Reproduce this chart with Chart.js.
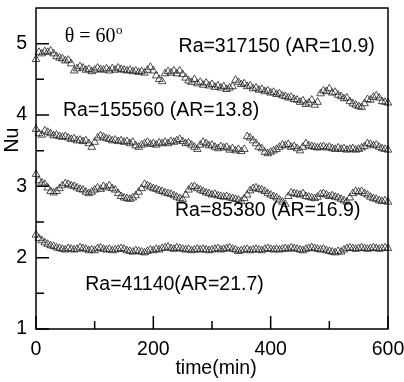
<!DOCTYPE html>
<html lang="en">
<head>
<meta charset="UTF-8">
<title>Nu vs time</title>
<script src="https://cdn.jsdelivr.net/npm/chart.js@4.4.0/dist/chart.umd.min.js"></script>
<style>
    body { margin: 0; background: #fff; }
    .chart-container { position: relative; width: 404px; height: 382px; }
</style>
</head>
<body>
<div class="chart-container"><canvas id="nuChart"></canvas></div>
<script>
    // sampling interval of the recorded Nu values (min)
    const timeStep = 5;

    const nuRa317150 = [
        4.78, 4.88, 4.86, 4.89, 4.88, 4.90, 4.86, 4.82, 4.80, 4.79, 4.76, 4.77, 4.72, 4.62, 4.65, 4.68,
        4.66, 4.63, 4.64, 4.61, 4.63, 4.66, 4.64, 4.63, 4.65, 4.62, 4.65, 4.63, 4.66, 4.64, 4.63, 4.62,
        4.63, 4.61, 4.62, 4.60, 4.61, 4.59, 4.63, 4.67, 4.62, 4.55, 4.50, 4.47, 4.58, 4.61, 4.59, 4.62,
        4.58, 4.62, 4.57, 4.52, 4.48, 4.46, 4.50, 4.44, 4.46, 4.42, 4.45, 4.41, 4.43, 4.39, 4.41, 4.38,
        4.40, 4.36, 4.38, 4.40, 4.49, 4.46, 4.43, 4.44, 4.40, 4.41, 4.37, 4.38, 4.35, 4.36, 4.33, 4.34,
        4.31, 4.32, 4.29, 4.30, 4.27, 4.26, 4.24, 4.25, 4.22, 4.21, 4.18, 4.20, 4.15, 4.17, 4.21, 4.14,
        4.18, 4.30, 4.34, 4.33, 4.37, 4.31, 4.32, 4.28, 4.26, 4.23, 4.24, 4.19, 4.16, 4.14, 4.12, 4.11,
        4.16, 4.22, 4.21, 4.25, 4.27, 4.24, 4.19, 4.18, 4.17
    ];
    const nuRa155560 = [
        3.80, 3.74, 3.72, 3.78, 3.76, 3.74, 3.71, 3.72, 3.70, 3.69, 3.70, 3.68, 3.66, 3.67, 3.64, 3.65,
        3.63, 3.64, 3.60, 3.55, 3.62, 3.68, 3.71, 3.69, 3.67, 3.66, 3.64, 3.65, 3.63, 3.64, 3.62, 3.63,
        3.60, 3.62, 3.57, 3.55, 3.58, 3.60, 3.62, 3.59, 3.60, 3.58, 3.61, 3.60, 3.62, 3.60, 3.63, 3.62,
        3.64, 3.66, 3.63, 3.60, 3.61, 3.58, 3.55, 3.52, 3.58, 3.62, 3.60, 3.57, 3.58, 3.55, 3.53, 3.56,
        3.54, 3.55, 3.51, 3.53, 3.50, 3.52, 3.49, 3.52, 3.70, 3.68, 3.64, 3.60, 3.55, 3.53, 3.48, 3.46,
        3.48, 3.50, 3.52, 3.55, 3.58, 3.57, 3.59, 3.55, 3.56, 3.53, 3.50, 3.55, 3.60, 3.57, 3.56, 3.55,
        3.54, 3.55, 3.56, 3.54, 3.55, 3.53, 3.52, 3.54, 3.52, 3.53, 3.51, 3.52, 3.53, 3.51, 3.52, 3.54,
        3.56, 3.60, 3.59, 3.57, 3.58, 3.55, 3.53, 3.52, 3.51
    ];
    const nuRa85380 = [
        3.17, 3.08, 3.05, 3.03, 2.98, 2.93, 2.91, 2.93, 2.97, 3.01, 3.04, 3.03, 3.01, 3.00, 2.98, 2.96,
        2.95, 2.92, 2.90, 2.92, 2.95, 2.98, 2.96, 3.00, 2.98, 3.01, 2.97, 2.95, 2.90, 2.86, 2.84, 2.83,
        2.82, 2.84, 2.87, 2.92, 2.97, 3.03, 3.01, 2.99, 2.97, 2.96, 2.94, 2.93, 2.91, 2.90, 2.89, 2.87,
        2.85, 2.83, 2.82, 2.88, 2.95, 2.99, 3.00, 2.97, 2.95, 2.93, 2.91, 2.90, 2.88, 2.89, 2.87, 2.86,
        2.85, 2.86, 2.84, 2.83, 2.82, 2.81, 2.79, 2.83, 2.88, 2.94, 2.97, 2.98, 2.96, 2.95, 2.93, 2.90,
        2.88, 2.86, 2.84, 2.81, 2.78, 2.75, 2.86, 2.91, 2.90, 2.89, 2.88, 2.90, 2.86, 2.85, 2.84, 2.83,
        2.85, 2.89, 2.90, 2.88, 2.86, 2.87, 2.85, 2.84, 2.82, 2.80, 2.78, 2.84, 2.90, 2.93, 2.92, 2.93,
        2.90, 2.88, 2.85, 2.83, 2.82, 2.80, 2.79, 2.80, 2.78
    ];
    const nuRa41140 = [
        2.32, 2.27, 2.24, 2.21, 2.19, 2.17, 2.16, 2.14, 2.13, 2.12, 2.11, 2.13, 2.12, 2.11, 2.12, 2.14,
        2.13, 2.12, 2.10, 2.11, 2.10, 2.13, 2.14, 2.12, 2.11, 2.12, 2.10, 2.11, 2.12, 2.13, 2.12, 2.10,
        2.09, 2.08, 2.10, 2.09, 2.08, 2.07, 2.09, 2.11, 2.10, 2.12, 2.11, 2.13, 2.14, 2.15, 2.13, 2.12,
        2.14, 2.13, 2.12, 2.11, 2.12, 2.10, 2.11, 2.12, 2.11, 2.12, 2.11, 2.10, 2.11, 2.12, 2.13, 2.11,
        2.12, 2.13, 2.14, 2.12, 2.11, 2.09, 2.10, 2.11, 2.12, 2.10, 2.11, 2.12, 2.11, 2.10, 2.12, 2.13,
        2.12, 2.11, 2.12, 2.11, 2.12, 2.13, 2.12, 2.14, 2.13, 2.12, 2.11, 2.10, 2.12, 2.13, 2.14, 2.13,
        2.12, 2.11, 2.12, 2.10, 2.09, 2.08, 2.07, 2.09, 2.08, 2.11, 2.13, 2.14, 2.13, 2.12, 2.13, 2.14,
        2.13, 2.12, 2.13, 2.14, 2.13, 2.12, 2.13, 2.14, 2.13
    ];

    const xTickValues = [0, 100, 200, 300, 400, 500, 600];
    const xLabelValues = [0, 200, 400, 600];
    const yTickValues = [1, 1.5, 2, 2.5, 3, 3.5, 4, 4.5, 5];
    const yLabelValues = [1, 2, 3, 4, 5];

    // text labels placed at (time, Nu)
    const annotations = [
        { text: 'Ra=317150 (AR=10.9)', t: 243, nu: 4.96 },
        { text: 'Ra=155560 (AR=13.8)', t: 46, nu: 4.06 },
        { text: 'Ra=85380 (AR=16.9)', t: 237, nu: 2.66 },
        { text: 'Ra=41140(AR=21.7)', t: 84, nu: 1.62 }
    ];

    const toPoints = arr => arr.map((v, i) => ({ x: i * timeStep, y: v }));

    const mainFont = '"Liberation Sans", Arial, sans-serif';

    const frameAndText = {
        id: 'frameAndText',
        afterDraw(chart) {
            const { ctx, chartArea: a, scales: { x, y } } = chart;
            ctx.save();
            ctx.strokeStyle = '#000';
            ctx.lineWidth = 1.5;
            ctx.strokeRect(a.left, a.top, a.right - a.left, a.bottom - a.top);

            // inward tick marks
            ctx.beginPath();
            xTickValues.forEach(v => {
                const px = x.getPixelForValue(v);
                const len = xLabelValues.includes(v) ? 13 : 8;
                ctx.moveTo(px, a.bottom);
                ctx.lineTo(px, a.bottom - len);
            });
            yTickValues.forEach(v => {
                const py = y.getPixelForValue(v);
                const len = yLabelValues.includes(v) ? 13 : 8;
                ctx.moveTo(a.left, py);
                ctx.lineTo(a.left + len, py);
            });
            ctx.stroke();

            ctx.fillStyle = '#000';
            ctx.textBaseline = 'middle';
            ctx.textAlign = 'left';
            ctx.font = '19.5px ' + mainFont;
            annotations.forEach(an => {
                ctx.fillText(an.text, x.getPixelForValue(an.t), y.getPixelForValue(an.nu));
            });

            // theta label
            ctx.font = '20px "Liberation Serif", "Times New Roman", serif';
            const tx = x.getPixelForValue(49);
            const ty = y.getPixelForValue(5.1);
            const main = '\u03B8 = 60';
            ctx.fillText(main, tx, ty);
            const w = ctx.measureText(main).width;
            ctx.font = '13px "Liberation Serif", "Times New Roman", serif';
            ctx.fillText('o', tx + w + 0.5, ty - 6);

            // axis titles
            ctx.font = '19.5px ' + mainFont;
            ctx.textAlign = 'center';
            ctx.fillText('time(min)', (a.left + a.right) / 2 + 4, 369);
            ctx.translate(13, 140);
            ctx.rotate(-Math.PI / 2);
            ctx.fillText('Nu', 0, 0);
            ctx.restore();
        }
    };

    const seriesStyle = {
        showLine: false,
        pointStyle: 'triangle',
        pointRadius: 4.4,
        pointBorderWidth: 0.8,
        pointBorderColor: '#222',
        pointBackgroundColor: 'rgba(0,0,0,0)',
        clip: false
    };

    const ctx = document.getElementById('nuChart').getContext('2d');
    new Chart(ctx, {
        type: 'scatter',
        data: {
            datasets: [
                { label: 'Ra=317150', data: toPoints(nuRa317150), ...seriesStyle },
                { label: 'Ra=155560', data: toPoints(nuRa155560), ...seriesStyle },
                { label: 'Ra=85380', data: toPoints(nuRa85380), ...seriesStyle },
                { label: 'Ra=41140', data: toPoints(nuRa41140), ...seriesStyle }
            ]
        },
        options: {
            responsive: true,
            maintainAspectRatio: false,
            animation: false,
            layout: { padding: { top: 8, right: 16, left: 0, bottom: 0 } },
            plugins: {
                legend: { display: false },
                tooltip: { enabled: false }
            },
            scales: {
                x: {
                    type: 'linear',
                    min: 0,
                    max: 600,
                    afterFit: s => {
                        s.height = 53;
                        s.paddingLeft = 0;
                        s.paddingRight = 0;
                    },
                    grid: { display: false, drawTicks: false },
                    border: { display: false },
                    ticks: {
                        stepSize: 100,
                        padding: 9,
                        color: '#000',
                        font: { family: mainFont, size: 19.5 },
                        maxRotation: 0,
                        callback: v => xLabelValues.includes(v) ? String(v) : ''
                    }
                },
                y: {
                    min: 1,
                    max: 5.5,
                    afterFit: s => {
                        s.width = 36;
                        s.paddingTop = 0;
                        s.paddingBottom = 0;
                    },
                    grid: { display: false, drawTicks: false },
                    border: { display: false },
                    ticks: {
                        stepSize: 0.5,
                        padding: 9,
                        color: '#000',
                        font: { family: mainFont, size: 19.5 },
                        callback: v => yLabelValues.includes(v) ? String(v) : ''
                    }
                }
            }
        },
        plugins: [frameAndText]
    });
</script>
</body>
</html>
